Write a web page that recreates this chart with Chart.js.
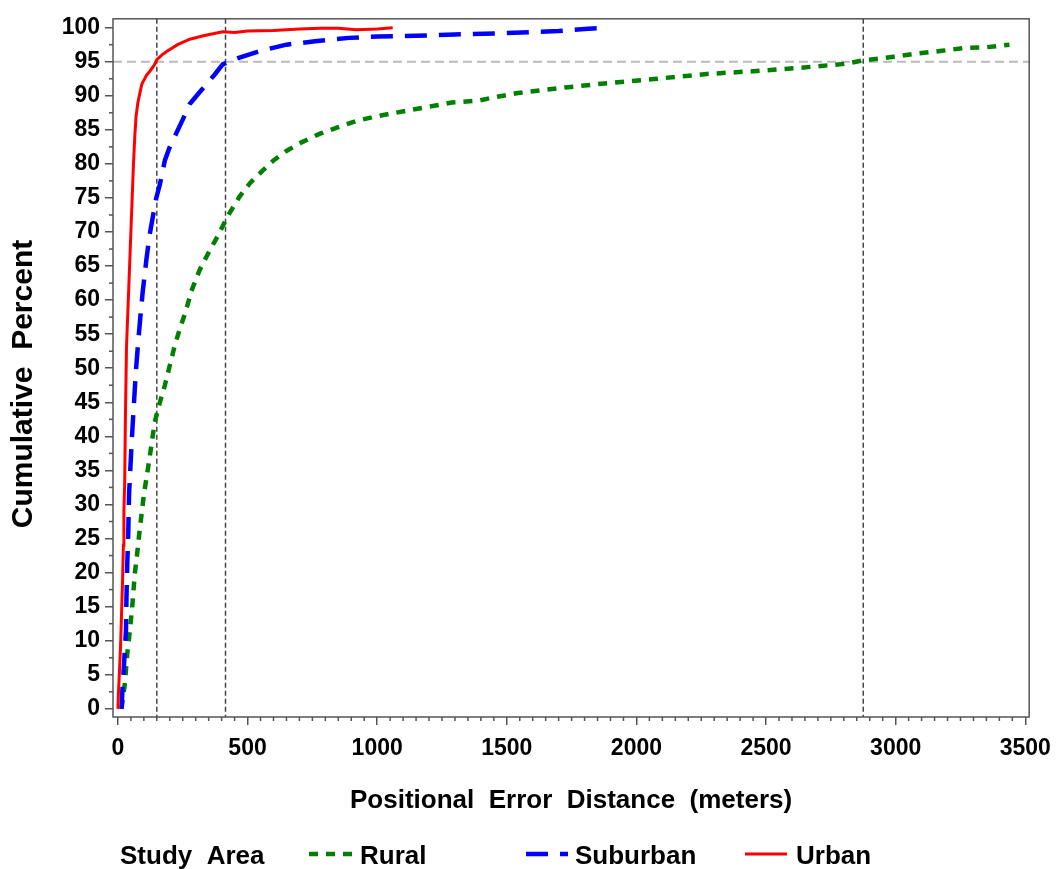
<!DOCTYPE html>
<html>
<head>
<meta charset="utf-8">
<script src="https://cdn.jsdelivr.net/npm/chart.js@4.4.1/dist/chart.umd.min.js"></script>
<style>
    body { margin: 0; background: #fff; }
    canvas { display: block; }
</style>
</head>
<body>
<canvas id="cdfChart" width="1061" height="869"></canvas>
<script>
// Cumulative percent of geocodes by positional error (meters)
const urbanDist = [0, 2, 10, 14, 18, 21, 23, 26, 29, 33, 40, 47, 54, 60, 65, 70, 77, 92, 110, 123, 140, 150, 170, 188, 230, 277, 330, 404, 450, 500, 600, 700, 780, 850, 920, 1000, 1060];
const urbanPct  = [0, 2.3, 9, 14, 19, 24, 29, 33, 43, 53, 60, 67, 74, 80, 84, 87, 89, 91.7, 93, 93.6, 94.5, 95.3, 96, 96.5, 97.5, 98.3, 98.8, 99.4, 99.3, 99.5, 99.6, 99.8, 99.9, 99.9, 99.7, 99.8, 100];

const suburbanDist = [14, 18, 23, 31, 33, 36, 40, 43, 53, 62, 69, 78, 87, 95, 110, 122, 135, 148, 162, 181, 200, 219, 250, 277, 310, 342, 375, 404, 440, 469, 550, 650, 760, 892, 1000, 1150, 1300, 1500, 1700, 1800, 1880];
const suburbanPct  = [0, 3.3, 6.2, 11.5, 16.4, 21.2, 26, 31.5, 39.2, 45, 49.4, 53.8, 57.7, 61, 66, 69.5, 72.3, 75, 77, 80.5, 82.5, 84, 86.5, 88.8, 90.3, 91.7, 93.2, 94.6, 95.2, 95.6, 96.6, 97.5, 98, 98.5, 98.7, 98.8, 99, 99.2, 99.5, 99.8, 100];

const ruralDist = [14, 27, 36, 46, 55, 65, 74, 82, 91, 100, 120, 142, 162, 181, 200, 219, 238, 262, 283, 315, 350, 385, 423, 469, 510, 558, 600, 650, 710, 777, 850, 919, 1000, 1112, 1200, 1288, 1392, 1469, 1543, 1722, 1900, 2079, 2271, 2450, 2629, 2807, 2876, 2986, 3082, 3178, 3261, 3343, 3439];
const ruralPct  = [0, 3.8, 8.1, 11.5, 14.9, 19.8, 22.7, 25.6, 28.5, 31.4, 36.3, 42.1, 45, 47.5, 50.4, 53.3, 55.7, 58.4, 61.3, 64.4, 67, 69.4, 72.3, 75.2, 77.2, 79, 80.5, 81.9, 83.2, 84.4, 85.4, 86.3, 87, 87.8, 88.4, 89, 89.3, 89.9, 90.4, 91.2, 91.9, 92.5, 93.2, 93.6, 94.1, 94.7, 95.2, 95.7, 96.2, 96.6, 97.0, 97.1, 97.5];

// reference lines
const refDist = [150, 415, 2875];
const refPct = [95];

// axis ticks
const xTicks = [0, 500, 1000, 1500, 2000, 2500, 3000, 3500];
const yTicks = [0, 5, 10, 15, 20, 25, 30, 35, 40, 45, 50, 55, 60, 65, 70, 75, 80, 85, 90, 95, 100];
const xMinorStep = 50;
const yMinorStep = 2.5;

const FONT = "'Liberation Sans', Arial, sans-serif";

function toPoints(xs, ys) {
    return xs.map((v, i) => ({ x: v, y: ys[i] }));
}

const datasets = [
    {
        label: 'Urban',
        data: toPoints(urbanDist, urbanPct),
        borderColor: '#ff0000',
        borderWidth: 3,
        order: 0
    },
    {
        label: 'Suburban',
        data: toPoints(suburbanDist, suburbanPct),
        borderColor: '#0000ff',
        borderWidth: 4.5,
        borderDash: [22, 12],
        order: 1
    },
    {
        label: 'Rural',
        data: toPoints(ruralDist, ruralPct),
        borderColor: '#008000',
        borderWidth: 4.5,
        borderDash: [9, 8],
        order: 2
    }
];

function strokeLine(ctx, x1, y1, x2, y2) {
    ctx.beginPath();
    ctx.moveTo(x1, y1);
    ctx.lineTo(x2, y2);
    ctx.stroke();
}

const framePlugin = {
    id: 'frame',
    beforeDatasetsDraw(chart) {
        const { ctx, chartArea: a, scales: { x, y } } = chart;
        ctx.save();
        ctx.strokeStyle = '#bbbbbb';
        ctx.lineWidth = 2;
        ctx.setLineDash([9, 5]);
        refPct.forEach(p => {
            const py = y.getPixelForValue(p);
            strokeLine(ctx, a.left, py, a.right, py);
        });
        ctx.strokeStyle = '#444444';
        ctx.lineWidth = 1.5;
        ctx.setLineDash([5, 3]);
        refDist.forEach(d => {
            const px = x.getPixelForValue(d);
            strokeLine(ctx, px, a.top, px, a.bottom);
        });
        ctx.restore();
    },
    afterDraw(chart) {
        const { ctx, chartArea: a, scales: { x, y } } = chart;
        ctx.save();
        // plot frame
        ctx.strokeStyle = '#555555';
        ctx.lineWidth = 1.5;
        ctx.strokeRect(a.left, a.top, a.right - a.left, a.bottom - a.top);

        // minor ticks
        for (let v = xMinorStep; v < 3500; v += xMinorStep) {
            if (v % 500 === 0) continue;
            const px = x.getPixelForValue(v);
            strokeLine(ctx, px, a.bottom, px, a.bottom + 4);
        }
        for (let v = yMinorStep; v < 100; v += 5) {
            const py = y.getPixelForValue(v);
            strokeLine(ctx, a.left - 4, py, a.left, py);
        }

        // y title
        ctx.fillStyle = '#000';
        ctx.textBaseline = 'middle';
        ctx.save();
        ctx.font = 'bold 30px ' + FONT;
        ctx.textAlign = 'center';
        ctx.translate(24, 384);
        ctx.rotate(-Math.PI / 2);
        ctx.fillText('Cumulative  Percent', 0, 0);
        ctx.restore();

        // legend
        ctx.font = 'bold 26px ' + FONT;
        const ly = 857;
        ctx.textAlign = 'left';
        ctx.fillText('Study  Area', 120, ly);
        const items = [
            { ds: datasets[2], x0: 309, x1: 352, tx: 360 },
            { ds: datasets[1], x0: 526, x1: 568, tx: 575 },
            { ds: datasets[0], x0: 745, x1: 787, tx: 796 }
        ];
        items.forEach(it => {
            ctx.strokeStyle = it.ds.borderColor;
            ctx.lineWidth = it.ds.borderWidth;
            ctx.setLineDash(it.ds.borderDash || []);
            strokeLine(ctx, it.x0, ly - 3, it.x1, ly - 3);
            ctx.setLineDash([]);
            ctx.fillText(it.ds.label, it.tx, ly);
        });
        ctx.restore();
    }
};

const tickFont = { family: FONT, size: 23, weight: 'bold' };

new Chart(document.getElementById('cdfChart'), {
    type: 'line',
    data: { datasets: datasets },
    options: {
        responsive: false,
        animation: false,
        events: [],
        elements: {
            point: { radius: 0 },
            line: { tension: 0, fill: false }
        },
        layout: { padding: { top: 14, right: 29, left: 0, bottom: 0 } },
        plugins: {
            legend: { display: false },
            tooltip: { enabled: false }
        },
        scales: {
            x: {
                type: 'linear',
                min: -19,
                max: 3515,
                afterBuildTicks: s => { s.ticks = xTicks.map(v => ({ value: v })); },
                afterFit: s => { s.height = 152; },
                border: { display: false },
                grid: { drawOnChartArea: false, tickLength: 8, color: '#555555', lineWidth: 1.5 },
                ticks: {
                    autoSkip: false,
                    maxRotation: 0,
                    padding: 10,
                    color: '#000',
                    font: tickFont,
                    callback: v => String(v)
                },
                title: {
                    display: true,
                    text: 'Positional  Error  Distance  (meters)',
                    color: '#000',
                    font: { family: FONT, size: 26, weight: 'bold' },
                    padding: { top: 0, bottom: 53 }
                }
            },
            y: {
                type: 'linear',
                min: -1.2,
                max: 101.3,
                afterBuildTicks: s => { s.ticks = yTicks.map(v => ({ value: v })); },
                afterFit: s => { s.width = 113; },
                border: { display: false },
                grid: { drawOnChartArea: false, tickLength: 8, color: '#555555', lineWidth: 1.5 },
                ticks: {
                    padding: 5,
                    color: '#000',
                    font: tickFont,
                    callback: v => String(v)
                }
            }
        }
    },
    plugins: [framePlugin]
});
</script>
</body>
</html>
